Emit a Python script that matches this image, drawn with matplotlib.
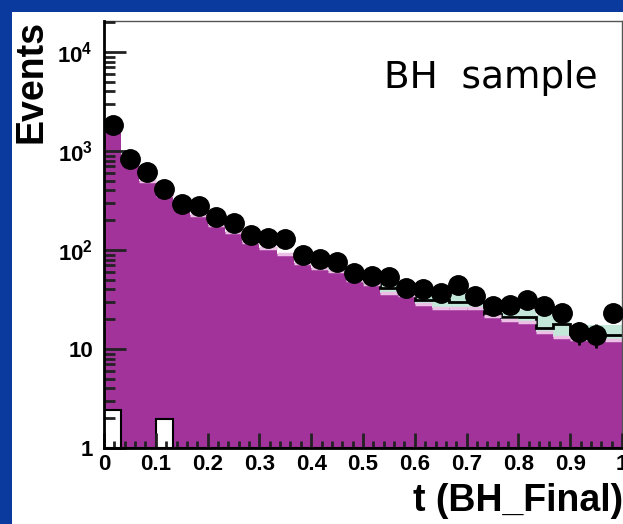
import numpy as np
import matplotlib
matplotlib.use("Agg")
import matplotlib.pyplot as plt
from matplotlib.patches import Rectangle
from matplotlib.ticker import FixedLocator, MultipleLocator, LogLocator, NullFormatter

plt.rcParams['font.family'] = ['Liberation Sans', 'DejaVu Sans']
plt.rcParams['mathtext.fontset'] = 'custom'
plt.rcParams['mathtext.rm'] = 'Liberation Sans:bold'
plt.rcParams['mathtext.bf'] = 'Liberation Sans:bold'

# 30 bins in t from 0 to 1
edges = np.linspace(0, 1, 31)

# data points (events per bin)
data = [1830, 830, 614, 413, 292, 278, 215, 187, 142, 132, 129, 89, 81, 76, 59,
        55, 53, 41, 40, 37, 44, 34, 27, 28, 31, 27, 23, 15, 14, 23]
data_err = [43, 29, 25, 20, 17, 17, 15, 14, 12, 11, 11, 9.4, 9, 8.7, 7.7,
            7.4, 7.3, 6.4, 6.3, 6.1, 6.6, 5.8, 5.2, 5.3, 5.6, 5.2, 4.8, 3.9, 3.7, 4.8]

# BH simulation (magenta)
bh_mc = [1750, 760, 500, 360, 270, 226, 178, 152, 120, 105, 91, 74, 66, 62, 50,
         45, 37, 35, 28.5, 26, 26, 26, 21.5, 19.5, 18.6, 14.8, 13.2, 12.6, 12.6, 12.3]
# total simulation (black line), from bin 15 on
total_mc = [45, 41, 40, 31, 31, 30, 30, 22.5, 21, 21, 16.3, 17.8, 13.8, 13.8, 14]
# upper edge of green band
band_hi = [1750, 760, 500, 360, 270, 226, 178, 152, 120, 105, 91, 74, 66, 66, 54,
           49, 47, 46, 37, 36, 36, 36, 26, 26, 25, 22, 22, 17.5, 17.5, 17.5]
# white boxes (other background)
other = [2.42, 1, 1, 1.96] + [1] * 26

yticks = [1, 10, 100, 1000, 10000]
yticklabels = ['1', '10', r'$\mathbf{10^{2}}$', r'$\mathbf{10^{3}}$', r'$\mathbf{10^{4}}$']

magenta = '#a1339b'
pink = '#ecbfe4'
green = '#c3e8da'

fig = plt.figure(figsize=(6.23, 5.24), dpi=100)
fig.patch.set_facecolor('#0b3a9e')
fig.patches.append(Rectangle((12 / 623, 0), 1, (524 - 12) / 524,
                             transform=fig.transFigure, facecolor='white',
                             edgecolor='none', zorder=-10))

ax = fig.add_axes([104 / 623, 76 / 524, 518 / 623, 427 / 524])
ax.set_yscale('log')
ax.set_xlim(0, 1)
ax.set_ylim(1, 10 ** 4.313)

ax.stairs(band_hi, edges, baseline=1, fill=True, color=green, zorder=0.6)
ax.stairs(bh_mc, edges, baseline=1, fill=True, color=magenta, zorder=0.8)
ax.stairs(total_mc, edges[15:], baseline=None, color='black', lw=2, zorder=1.0)
ax.hlines(bh_mc, edges[:-1], edges[1:], color=pink, lw=2.5, zorder=1.1)
ax.bar(edges[:-1], np.array(other) - 1, width=edges[1] - edges[0], bottom=1,
       align='edge', facecolor='white', edgecolor='black', lw=1.5, zorder=1.2)

centers = 0.5 * (edges[:-1] + edges[1:])
ax.errorbar(centers, data, yerr=data_err, fmt='o', color='black', ms=14,
            elinewidth=2, capsize=0, zorder=5, clip_on=True)

ax.set_axisbelow(False)
ax.yaxis.set_major_locator(FixedLocator(yticks))
ax.set_yticklabels(yticklabels)
ax.yaxis.set_minor_locator(LogLocator(base=10, subs=np.arange(2, 10)))
ax.yaxis.set_minor_formatter(NullFormatter())
ax.xaxis.set_major_locator(MultipleLocator(0.1))
ax.xaxis.set_minor_locator(MultipleLocator(0.02))
ax.set_xticks(np.arange(0, 1.01, 0.1))
ax.set_xticklabels(['0', '0.1', '0.2', '0.3', '0.4', '0.5', '0.6', '0.7', '0.8', '0.9', '1'])

ax.tick_params(axis='both', which='both', direction='in', width=2, color='#222222')
ax.tick_params(axis='y', which='major', length=16, pad=8, labelsize=16)
ax.tick_params(axis='y', which='minor', length=8)
ax.tick_params(axis='x', which='major', length=11, pad=4, labelsize=16)
ax.tick_params(axis='x', which='minor', length=5)
for lab in ax.get_xticklabels() + ax.get_yticklabels():
    lab.set_fontweight('bold')

for s in ['left', 'bottom']:
    ax.spines[s].set_linewidth(2)
    ax.spines[s].set_zorder(6)
for s in ['top', 'right']:
    ax.spines[s].set_linewidth(1)
    ax.spines[s].set_color('#555555')

fig.text(32 / 623, 1 - 20 / 524, 'Events', rotation=90, ha='center', va='top',
         fontsize=27, fontweight='bold')
fig.text(1.0, 0.025, 't (BH_Final)', ha='right', va='baseline',
         fontsize=27, fontweight='bold')
fig.text(384 / 623, 1 - 88 / 524, 'BH  sample', ha='left', va='baseline',
         fontsize=27, family='DejaVu Sans')

fig.savefig('out.png', dpi=100, facecolor=fig.get_facecolor())
